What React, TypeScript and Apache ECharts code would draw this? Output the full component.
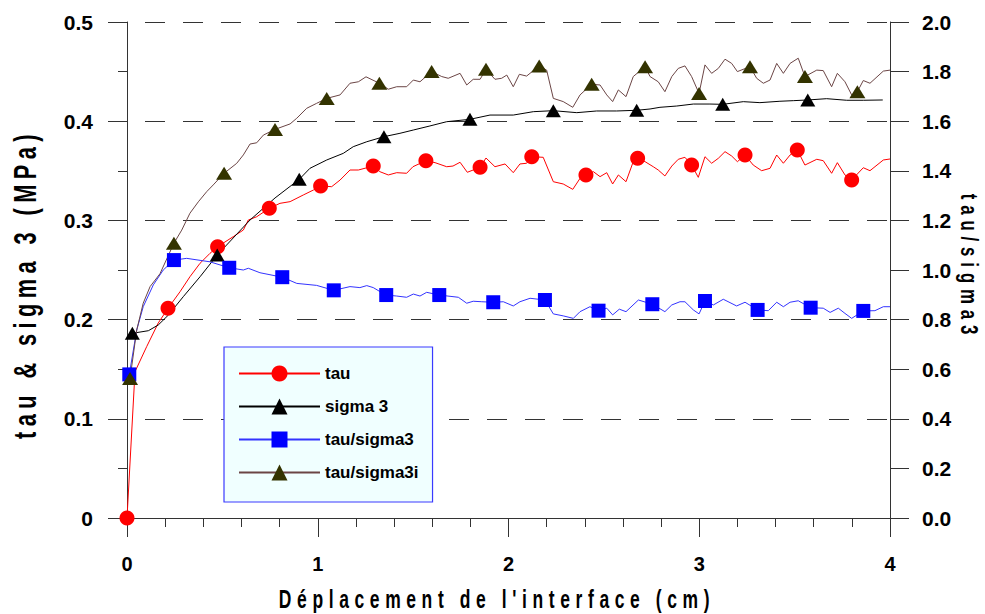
import React, { useEffect, useRef } from 'react';
import * as echarts from 'echarts';

const FONT = "'Liberation Sans', Arial, sans-serif";

const xTitle = "Déplacement de l'interface (cm)";
const yLeftTitle = 'tau & sigma 3 (MPa)';
const yRightTitle = 'tau/sigma3';
const seriesNames = ['tau', 'sigma 3', 'tau/sigma3', 'tau/sigma3i'];

const xAxisRange = [0, 4, 1];
const yLeftRange = [0, 0.5, 0.1];
const yRightRange = [0, 2, 0.2];

const tauLine = [[0.042,0.1475],[0.103,0.1727],[0.164,0.1966],[0.278,0.2281],[0.330,0.2432],[0.383,0.2568],[0.435,0.2668],[0.557,0.2836],[0.610,0.2903],[0.636,0.3004],[0.680,0.3037],[0.802,0.3172],[0.855,0.3189],[0.924,0.3256],[0.977,0.3306],[1.073,0.334],[1.117,0.3407],[1.169,0.3508],[1.213,0.3508],[1.326,0.3491],[1.370,0.3458],[1.414,0.3481],[1.466,0.3475],[1.499,0.3541],[1.615,0.3582],[1.676,0.3541],[1.709,0.3548],[1.746,0.3586],[1.784,0.3485],[1.882,0.3629],[1.929,0.3541],[1.982,0.3569],[2.025,0.3481],[2.060,0.3569],[2.095,0.3576],[2.182,0.3636],[2.235,0.339],[2.287,0.3367],[2.337,0.3313],[2.375,0.3424],[2.445,0.3491],[2.480,0.3441],[2.515,0.3481],[2.546,0.3367],[2.576,0.3458],[2.616,0.339],[2.654,0.3592],[2.716,0.3592],[2.759,0.3541],[2.785,0.3508],[2.820,0.3448],[2.856,0.3548],[2.890,0.3616],[2.925,0.3636],[2.995,0.3434],[3.030,0.3642],[3.065,0.3576],[3.100,0.3626],[3.135,0.3693],[3.170,0.3649],[3.200,0.3592],[3.283,0.3558],[3.327,0.3501],[3.371,0.3525],[3.406,0.3659],[3.441,0.3576],[3.476,0.3659],[3.554,0.3558],[3.616,0.3616],[3.650,0.3602],[3.694,0.3475],[3.724,0.3582],[3.764,0.3458],[3.860,0.3531],[3.895,0.3501],[3.965,0.3609],[4.0,0.3619]];
const tauMarks = [[0,0],[0.215,0.2114],[0.475,0.2735],[0.746,0.3122],[1.015,0.3347],[1.291,0.3548],[1.567,0.3602],[1.851,0.3535],[2.122,0.3642],[2.406,0.3458],[2.677,0.3626],[2.960,0.3558],[3.240,0.3659],[3.514,0.371],[3.799,0.3407]];

const sigmaLine = [[0.112,0.1888],[0.164,0.1946],[0.217,0.2046],[0.295,0.2231],[0.383,0.2432],[0.645,0.3004],[0.776,0.3226],[0.959,0.3525],[1.047,0.3609],[1.134,0.3676],[1.186,0.3743],[1.257,0.3793],[1.431,0.3878],[1.501,0.3911],[1.588,0.3952],[1.676,0.3995],[1.903,0.4062],[2.025,0.4062],[2.130,0.4096],[2.358,0.4086],[2.462,0.4103],[2.567,0.4103],[2.742,0.4123],[2.794,0.414],[2.882,0.4153],[2.969,0.4173],[3.056,0.4173],[3.231,0.4197],[3.318,0.4187],[3.423,0.4201],[3.493,0.4207],[3.668,0.4227],[3.773,0.4211],[3.860,0.4211],[3.962,0.4214]];
const sigmaMarks = [[0.028,0.1862],[0.473,0.2651],[0.903,0.3414],[1.347,0.3844],[1.798,0.4019],[2.235,0.4106],[2.672,0.411],[3.123,0.417],[3.569,0.4214]];

const ratioLine = [[0.051,0.758],[0.085,0.852],[0.138,0.940],[0.190,1.000],[0.313,1.047],[0.435,1.033],[0.610,1.000],[0.636,1.007],[0.697,0.989],[0.890,0.946],[0.994,0.938],[1.169,0.933],[1.221,0.929],[1.257,0.937],[1.291,0.929],[1.326,0.913],[1.414,0.895],[1.466,0.890],[1.501,0.903],[1.536,0.895],[1.571,0.910],[1.737,0.890],[1.781,0.866],[1.815,0.874],[1.860,0.872],[1.973,0.872],[2.025,0.855],[2.060,0.872],[2.113,0.886],[2.235,0.823],[2.287,0.815],[2.340,0.805],[2.375,0.832],[2.427,0.852],[2.515,0.846],[2.546,0.819],[2.581,0.842],[2.616,0.832],[2.681,0.879],[2.820,0.832],[2.856,0.859],[2.899,0.872],[2.925,0.872],[2.969,0.839],[2.999,0.823],[3.074,0.859],[3.126,0.882],[3.196,0.855],[3.240,0.870],[3.362,0.836],[3.406,0.870],[3.441,0.852],[3.476,0.870],[3.519,0.876],[3.650,0.846],[3.686,0.829],[3.729,0.846],[3.764,0.825],[3.799,0.805],[3.921,0.836],[3.965,0.852],[4.0,0.852]];
const ratioMarks = [[0.012,0.579],[0.246,1.040],[0.536,1.009],[0.814,0.971],[1.084,0.918],[1.359,0.899],[1.637,0.899],[1.920,0.870],[2.191,0.879],[2.472,0.836],[2.754,0.862],[3.030,0.875],[3.306,0.839],[3.584,0.848],[3.860,0.835]];

const ratioILine = [[0.051,0.758],[0.085,0.866],[0.121,0.933],[0.173,0.985],[0.287,1.161],[0.330,1.229],[0.374,1.275],[0.418,1.316],[0.452,1.343],[0.575,1.430],[0.610,1.464],[0.645,1.508],[0.680,1.513],[0.715,1.544],[0.855,1.589],[0.890,1.612],[0.942,1.652],[0.994,1.672],[1.117,1.706],[1.169,1.753],[1.213,1.759],[1.253,1.779],[1.370,1.729],[1.414,1.739],[1.466,1.739],[1.501,1.766],[1.536,1.759],[1.650,1.780],[1.684,1.773],[1.746,1.793],[1.781,1.746],[1.815,1.769],[1.851,1.769],[1.929,1.769],[1.964,1.773],[1.991,1.786],[2.025,1.739],[2.057,1.789],[2.095,1.782],[2.200,1.806],[2.235,1.692],[2.287,1.679],[2.337,1.656],[2.375,1.706],[2.480,1.746],[2.515,1.706],[2.546,1.679],[2.576,1.726],[2.616,1.699],[2.654,1.780],[2.742,1.780],[2.785,1.759],[2.820,1.719],[2.856,1.780],[2.890,1.813],[2.925,1.823],[2.960,1.780],[3.030,1.827],[3.065,1.793],[3.100,1.813],[3.135,1.850],[3.170,1.833],[3.200,1.800],[3.301,1.773],[3.336,1.753],[3.371,1.766],[3.406,1.833],[3.441,1.793],[3.476,1.833],[3.519,1.854],[3.616,1.806],[3.650,1.804],[3.694,1.739],[3.724,1.793],[3.764,1.759],[3.799,1.706],[3.860,1.764],[3.895,1.753],[3.965,1.802],[4.0,1.806]];
const ratioIMarks = [[0.016,0.563],[0.246,1.108],[0.509,1.390],[0.776,1.567],[1.047,1.692],[1.323,1.753],[1.597,1.800],[1.882,1.809],[2.161,1.823],[2.436,1.749],[2.716,1.820],[2.999,1.712],[3.266,1.820],[3.554,1.780],[3.829,1.719]];

function build(line: number[][], marks: number[][]) {
  const pts: any[] = [
    ...line.map((p) => ({ value: p, symbol: 'none' })),
    ...marks.map((p) => ({ value: p })),
  ];
  pts.sort((a, b) => a.value[0] - b.value[0]);
  return pts;
}

const css = `
#chart text[style*="25px"] { letter-spacing: 8px; }
#chart text[style*="32px"] { letter-spacing: 8px; }
#chart text[style*="24px"] { letter-spacing: 8.4px; }
`;

const axisColor = '#333';

function makeOption(): any {
  const titleStyle = (size: number) => ({
    fontSize: size,
    fontWeight: 'bold',
    fontFamily: FONT,
    fill: '#000',
    textAlign: 'center',
    textVerticalAlign: 'middle',
    align: 'center',
    verticalAlign: 'middle',
  });
  const tickFont = { fontWeight: 'bold', fontFamily: FONT, color: '#000' };
  return {
    animation: false,
    backgroundColor: '#fff',
    grid: { left: 127, right: 95, top: 22, bottom: 96, containLabel: false },
    legend: {
      orient: 'vertical',
      left: 224,
      top: 347,
      padding: [18, 14, 21, 14],
      itemWidth: 81,
      itemHeight: 20,
      itemGap: 16,
      backgroundColor: '#f0ffff',
      borderColor: '#3a3aff',
      borderWidth: 1.2,
      textStyle: { fontSize: 17, ...tickFont },
      data: seriesNames,
    },
    xAxis: {
      type: 'value',
      min: xAxisRange[0],
      max: xAxisRange[1],
      interval: xAxisRange[2],
      axisLine: { show: true, onZero: false, lineStyle: { color: axisColor, width: 1 } },
      axisTick: { show: true, length: 19, lineStyle: { color: axisColor } },
      minorTick: { show: true, splitNumber: 5, length: 9, lineStyle: { color: axisColor } },
      splitLine: { show: false },
      axisLabel: { margin: 36, fontSize: 20, ...tickFont },
    },
    yAxis: [
      {
        type: 'value',
        min: yLeftRange[0],
        max: yLeftRange[1],
        interval: yLeftRange[2],
        axisLine: { show: true, onZero: false, lineStyle: { color: axisColor } },
        axisTick: { show: true, length: 19, lineStyle: { color: axisColor } },
        minorTick: { show: true, splitNumber: 2, length: 9, lineStyle: { color: axisColor } },
        splitLine: { show: true, lineStyle: { color: '#333', width: 1, type: [20, 18], dashOffset: 20 } },
        axisLabel: { margin: 34, fontSize: 21, ...tickFont },
      },
      {
        type: 'value',
        position: 'right',
        min: yRightRange[0],
        max: yRightRange[1],
        interval: yRightRange[2],
        axisLine: { show: true, onZero: false, lineStyle: { color: axisColor } },
        axisTick: { show: true, length: 19, lineStyle: { color: axisColor } },
        splitLine: { show: false },
        axisLabel: {
          margin: 32,
          fontSize: 21,
          ...tickFont,
          formatter: (v: number) => v.toFixed(1),
        },
      },
    ],
    graphic: [
      { type: 'text', x: 497, y: 599, scaleX: 0.7, style: { text: xTitle, ...titleStyle(25) } },
      { type: 'text', x: 25, y: 284, rotation: Math.PI / 2, scaleX: 0.68, style: { text: yLeftTitle, ...titleStyle(32) } },
      { type: 'text', x: 970, y: 267, rotation: -Math.PI / 2, scaleX: 0.7, style: { text: yRightTitle, ...titleStyle(24) } },
    ],
    series: [
      {
        name: seriesNames[0],
        type: 'line',
        yAxisIndex: 0,
        symbol: 'circle',
        symbolSize: 15,
        data: build(tauLine, tauMarks),
        lineStyle: { color: '#ff0000', width: 1 },
        itemStyle: { color: '#ff0000' },
      },
      {
        name: seriesNames[1],
        type: 'line',
        yAxisIndex: 0,
        symbol: 'triangle',
        symbolSize: [15, 13],
        data: build(sigmaLine, sigmaMarks),
        lineStyle: { color: '#000000', width: 1 },
        itemStyle: { color: '#000000' },
      },
      {
        name: seriesNames[2],
        type: 'line',
        yAxisIndex: 1,
        symbol: 'rect',
        symbolSize: 14,
        data: build(ratioLine, ratioMarks),
        lineStyle: { color: '#3333ff', width: 1 },
        itemStyle: { color: '#0000ff' },
      },
      {
        name: seriesNames[3],
        type: 'line',
        yAxisIndex: 1,
        symbol: 'triangle',
        symbolSize: [16, 13],
        data: build(ratioILine, ratioIMarks),
        lineStyle: { color: '#6b4545', width: 1 },
        itemStyle: { color: '#333300' },
      },
    ],
  };
}

export default function App() {
  const ref = useRef<HTMLDivElement>(null);
  useEffect(() => {
    if (!ref.current) return;
    const chart = echarts.init(ref.current, null, { renderer: 'svg' });
    chart.setOption(makeOption());
    return () => chart.dispose();
  }, []);
  return (
    <div>
      <style>{css}</style>
      <div
        id="chart"
        ref={ref}
        style={{ position: 'fixed', left: 0, top: 0, width: 985, height: 614, background: '#fff' }}
      />
    </div>
  );
}
